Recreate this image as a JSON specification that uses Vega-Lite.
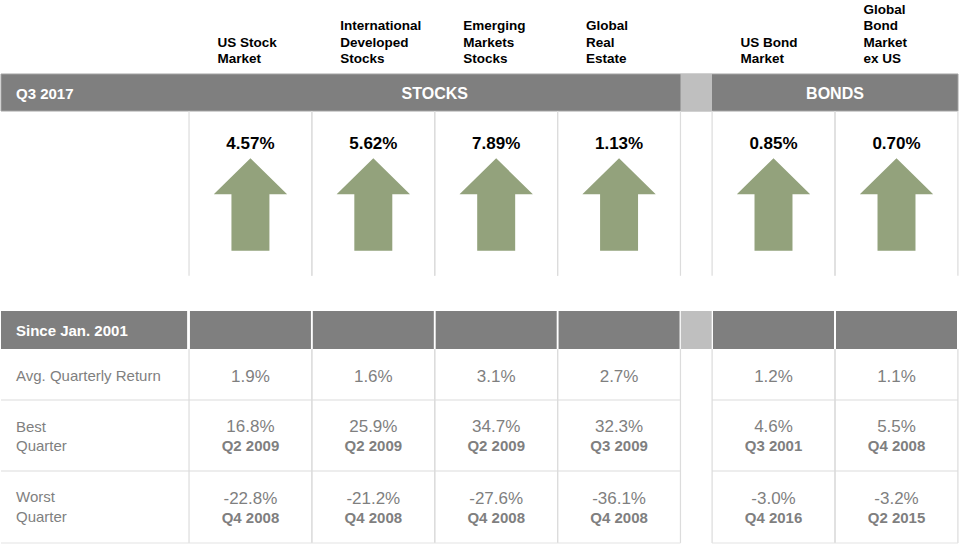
{
  "$schema": "https://vega.github.io/schema/vega-lite/v6.json",
  "width": 960,
  "height": 544,
  "padding": 0,
  "autosize": {"type": "none"},
  "background": "white",
  "config": {
    "view": {"stroke": null},
    "text": {"font": "Liberation Sans"},
    "locale": {"number": {"decimal": ".", "thousands": ",", "grouping": [3], "currency": ["$", ""], "minus": "-"}}
  },
  "datasets": {
    "assets": [
      {"name": "US Stock Market", "asset": ["US Stock", "Market"], "group": "STOCKS", "col": 1, "q3": 0.0457, "avg": 0.019, "best": 0.168, "bestQ": "Q2 2009", "worst": -0.228, "worstQ": "Q4 2008"},
      {"name": "International Developed Stocks", "asset": ["International", "Developed", "Stocks"], "group": "STOCKS", "col": 2, "q3": 0.0562, "avg": 0.016, "best": 0.259, "bestQ": "Q2 2009", "worst": -0.212, "worstQ": "Q4 2008"},
      {"name": "Emerging Markets Stocks", "asset": ["Emerging", "Markets", "Stocks"], "group": "STOCKS", "col": 3, "q3": 0.0789, "avg": 0.031, "best": 0.347, "bestQ": "Q2 2009", "worst": -0.276, "worstQ": "Q4 2008"},
      {"name": "Global Real Estate", "asset": ["Global", "Real", "Estate"], "group": "STOCKS", "col": 4, "q3": 0.0113, "avg": 0.027, "best": 0.323, "bestQ": "Q3 2009", "worst": -0.361, "worstQ": "Q4 2008"},
      {"name": "US Bond Market", "asset": ["US Bond", "Market"], "group": "BONDS", "col": 6, "q3": 0.0085, "avg": 0.012, "best": 0.046, "bestQ": "Q3 2001", "worst": -0.030, "worstQ": "Q4 2016"},
      {"name": "Global Bond Market ex US", "asset": ["Global", "Bond", "Market", "ex US"], "group": "BONDS", "col": 7, "q3": 0.0070, "avg": 0.011, "best": 0.055, "bestQ": "Q4 2008", "worst": -0.032, "worstQ": "Q2 2015"}
    ]
  },
  "data": {"name": "assets"},
  "layer": [
    {
      "data": {"values": [{}]},
      "mark": {"type": "rect", "fill": "#7f7f7f", "stroke": "#a3a3a3", "strokeWidth": 1},
      "encoding": {
        "x": {"datum": -0.5, "type": "quantitative", "scale": {"domain": [-0.5, 0.5, 4.5, 5.5, 7.5], "range": [1, 189, 680.5, 712, 958], "zero": false, "nice": false, "padding": 0}, "axis": null},
        "x2": {"datum": 7.5},
        "y": {"datum": 1, "type": "quantitative", "scale": {"domain": [0, 1, 2, 3, 4, 5, 6, 7], "range": [0, 74, 111, 311, 349, 400, 471, 543], "zero": false, "nice": false, "padding": 0}, "axis": null},
        "y2": {"datum": 2}
      }
    },
    {
      "data": {"values": [{}]},
      "mark": {"type": "rect", "fill": "#bfbfbf"},
      "encoding": {
        "x": {"datum": 4.5, "type": "quantitative", "scale": {"domain": [-0.5, 0.5, 4.5, 5.5, 7.5], "range": [1, 189, 680.5, 712, 958], "zero": false, "nice": false, "padding": 0}, "axis": null},
        "x2": {"datum": 5.5},
        "y": {"datum": 1, "type": "quantitative", "scale": {"domain": [0, 1, 2, 3, 4, 5, 6, 7], "range": [0, 74, 111, 311, 349, 400, 471, 543], "zero": false, "nice": false, "padding": 0}, "axis": null},
        "y2": {"datum": 2}
      }
    },
    {
      "data": {"values": [{}]},
      "mark": {"type": "rect", "fill": "#7f7f7f"},
      "encoding": {
        "x": {"datum": -0.5, "type": "quantitative", "scale": {"domain": [-0.5, 0.5, 4.5, 5.5, 7.5], "range": [1, 189, 680.5, 712, 958], "zero": false, "nice": false, "padding": 0}, "axis": null},
        "x2": {"datum": 0.49},
        "y": {"datum": 3, "type": "quantitative", "scale": {"domain": [0, 1, 2, 3, 4, 5, 6, 7], "range": [0, 74, 111, 311, 349, 400, 471, 543], "zero": false, "nice": false, "padding": 0}, "axis": null},
        "y2": {"datum": 4}
      }
    },
    {
      "mark": {"type": "bar", "fill": "#7f7f7f", "width": 121},
      "encoding": {
        "x": {"field": "col", "type": "quantitative", "scale": {"domain": [-0.5, 0.5, 4.5, 5.5, 7.5], "range": [1, 189, 680.5, 712, 958], "zero": false, "nice": false, "padding": 0}, "axis": null},
        "y": {"datum": 3, "type": "quantitative", "scale": {"domain": [0, 1, 2, 3, 4, 5, 6, 7], "range": [0, 74, 111, 311, 349, 400, 471, 543], "zero": false, "nice": false, "padding": 0}, "axis": null},
        "y2": {"datum": 4}
      }
    },
    {
      "data": {"values": [{}]},
      "mark": {"type": "rect", "fill": "#bfbfbf"},
      "encoding": {
        "x": {"datum": 4.51, "type": "quantitative", "scale": {"domain": [-0.5, 0.5, 4.5, 5.5, 7.5], "range": [1, 189, 680.5, 712, 958], "zero": false, "nice": false, "padding": 0}, "axis": null},
        "x2": {"datum": 5.49},
        "y": {"datum": 3, "type": "quantitative", "scale": {"domain": [0, 1, 2, 3, 4, 5, 6, 7], "range": [0, 74, 111, 311, 349, 400, 471, 543], "zero": false, "nice": false, "padding": 0}, "axis": null},
        "y2": {"datum": 4}
      }
    },
    {
      "mark": {"type": "rule", "stroke": "#dcdcdc", "strokeWidth": 1.2, "xOffset": -61.4},
      "encoding": {
        "x": {"field": "col", "type": "quantitative", "scale": {"domain": [-0.5, 0.5, 4.5, 5.5, 7.5], "range": [1, 189, 680.5, 712, 958], "zero": false, "nice": false, "padding": 0}, "axis": null},
        "y": {"datum": 2, "type": "quantitative", "scale": {"domain": [0, 1, 2, 3, 4, 5, 6, 7], "range": [0, 74, 111, 311, 349, 400, 471, 543], "zero": false, "nice": false, "padding": 0}, "axis": null},
        "y2": {"datum": 2.824}
      }
    },
    {
      "mark": {"type": "rule", "stroke": "#dcdcdc", "strokeWidth": 1.2, "xOffset": 61.4},
      "encoding": {
        "x": {"field": "col", "type": "quantitative", "scale": {"domain": [-0.5, 0.5, 4.5, 5.5, 7.5], "range": [1, 189, 680.5, 712, 958], "zero": false, "nice": false, "padding": 0}, "axis": null},
        "y": {"datum": 2, "type": "quantitative", "scale": {"domain": [0, 1, 2, 3, 4, 5, 6, 7], "range": [0, 74, 111, 311, 349, 400, 471, 543], "zero": false, "nice": false, "padding": 0}, "axis": null},
        "y2": {"datum": 2.824}
      }
    },
    {
      "mark": {"type": "rule", "stroke": "#dcdcdc", "strokeWidth": 1.2, "xOffset": -61.4},
      "encoding": {
        "x": {"field": "col", "type": "quantitative", "scale": {"domain": [-0.5, 0.5, 4.5, 5.5, 7.5], "range": [1, 189, 680.5, 712, 958], "zero": false, "nice": false, "padding": 0}, "axis": null},
        "y": {"datum": 4, "type": "quantitative", "scale": {"domain": [0, 1, 2, 3, 4, 5, 6, 7], "range": [0, 74, 111, 311, 349, 400, 471, 543], "zero": false, "nice": false, "padding": 0}, "axis": null},
        "y2": {"datum": 7}
      }
    },
    {
      "mark": {"type": "rule", "stroke": "#dcdcdc", "strokeWidth": 1.2, "xOffset": 61.4},
      "encoding": {
        "x": {"field": "col", "type": "quantitative", "scale": {"domain": [-0.5, 0.5, 4.5, 5.5, 7.5], "range": [1, 189, 680.5, 712, 958], "zero": false, "nice": false, "padding": 0}, "axis": null},
        "y": {"datum": 4, "type": "quantitative", "scale": {"domain": [0, 1, 2, 3, 4, 5, 6, 7], "range": [0, 74, 111, 311, 349, 400, 471, 543], "zero": false, "nice": false, "padding": 0}, "axis": null},
        "y2": {"datum": 7}
      }
    },
    {
      "data": {"values": [{}]},
      "mark": {"type": "rule", "stroke": "#dcdcdc", "strokeWidth": 1.2},
      "encoding": {
        "x": {"datum": -0.5, "type": "quantitative", "scale": {"domain": [-0.5, 0.5, 4.5, 5.5, 7.5], "range": [1, 189, 680.5, 712, 958], "zero": false, "nice": false, "padding": 0}, "axis": null},
        "x2": {"datum": 4.5},
        "y": {"datum": 5, "type": "quantitative", "scale": {"domain": [0, 1, 2, 3, 4, 5, 6, 7], "range": [0, 74, 111, 311, 349, 400, 471, 543], "zero": false, "nice": false, "padding": 0}, "axis": null}
      }
    },
    {
      "data": {"values": [{}]},
      "mark": {"type": "rule", "stroke": "#dcdcdc", "strokeWidth": 1.2},
      "encoding": {
        "x": {"datum": 5.5, "type": "quantitative", "scale": {"domain": [-0.5, 0.5, 4.5, 5.5, 7.5], "range": [1, 189, 680.5, 712, 958], "zero": false, "nice": false, "padding": 0}, "axis": null},
        "x2": {"datum": 7.5},
        "y": {"datum": 5, "type": "quantitative", "scale": {"domain": [0, 1, 2, 3, 4, 5, 6, 7], "range": [0, 74, 111, 311, 349, 400, 471, 543], "zero": false, "nice": false, "padding": 0}, "axis": null}
      }
    },
    {
      "data": {"values": [{}]},
      "mark": {"type": "rule", "stroke": "#dcdcdc", "strokeWidth": 1.2},
      "encoding": {
        "x": {"datum": -0.5, "type": "quantitative", "scale": {"domain": [-0.5, 0.5, 4.5, 5.5, 7.5], "range": [1, 189, 680.5, 712, 958], "zero": false, "nice": false, "padding": 0}, "axis": null},
        "x2": {"datum": 4.5},
        "y": {"datum": 6, "type": "quantitative", "scale": {"domain": [0, 1, 2, 3, 4, 5, 6, 7], "range": [0, 74, 111, 311, 349, 400, 471, 543], "zero": false, "nice": false, "padding": 0}, "axis": null}
      }
    },
    {
      "data": {"values": [{}]},
      "mark": {"type": "rule", "stroke": "#dcdcdc", "strokeWidth": 1.2},
      "encoding": {
        "x": {"datum": 5.5, "type": "quantitative", "scale": {"domain": [-0.5, 0.5, 4.5, 5.5, 7.5], "range": [1, 189, 680.5, 712, 958], "zero": false, "nice": false, "padding": 0}, "axis": null},
        "x2": {"datum": 7.5},
        "y": {"datum": 6, "type": "quantitative", "scale": {"domain": [0, 1, 2, 3, 4, 5, 6, 7], "range": [0, 74, 111, 311, 349, 400, 471, 543], "zero": false, "nice": false, "padding": 0}, "axis": null}
      }
    },
    {
      "data": {"values": [{}]},
      "mark": {"type": "rule", "stroke": "#e3e3e3", "strokeWidth": 1.2},
      "encoding": {
        "x": {"datum": -0.5, "type": "quantitative", "scale": {"domain": [-0.5, 0.5, 4.5, 5.5, 7.5], "range": [1, 189, 680.5, 712, 958], "zero": false, "nice": false, "padding": 0}, "axis": null},
        "x2": {"datum": 4.5},
        "y": {"datum": 7, "type": "quantitative", "scale": {"domain": [0, 1, 2, 3, 4, 5, 6, 7], "range": [0, 74, 111, 311, 349, 400, 471, 543], "zero": false, "nice": false, "padding": 0}, "axis": null}
      }
    },
    {
      "data": {"values": [{}]},
      "mark": {"type": "rule", "stroke": "#e3e3e3", "strokeWidth": 1.2},
      "encoding": {
        "x": {"datum": 5.5, "type": "quantitative", "scale": {"domain": [-0.5, 0.5, 4.5, 5.5, 7.5], "range": [1, 189, 680.5, 712, 958], "zero": false, "nice": false, "padding": 0}, "axis": null},
        "x2": {"datum": 7.5},
        "y": {"datum": 7, "type": "quantitative", "scale": {"domain": [0, 1, 2, 3, 4, 5, 6, 7], "range": [0, 74, 111, 311, 349, 400, 471, 543], "zero": false, "nice": false, "padding": 0}, "axis": null}
      }
    },
    {
      "mark": {"type": "point", "shape": "M0,-1L0.794,-0.221L0.411,-0.221L0.411,1L-0.411,1L-0.411,-0.221L-0.794,-0.221Z", "size": 8538, "filled": true, "fill": "#93a27c", "opacity": 1, "strokeWidth": 0},
      "encoding": {
        "x": {"field": "col", "type": "quantitative", "scale": {"domain": [-0.5, 0.5, 4.5, 5.5, 7.5], "range": [1, 189, 680.5, 712, 958], "zero": false, "nice": false, "padding": 0}, "axis": null},
        "y": {"datum": 2.4675, "type": "quantitative", "scale": {"domain": [0, 1, 2, 3, 4, 5, 6, 7], "range": [0, 74, 111, 311, 349, 400, 471, 543], "zero": false, "nice": false, "padding": 0}, "axis": null}
      }
    },
    {
      "transform": [{"filter": "length(datum.asset) == 2"}],
      "mark": {"type": "text", "align": "left", "baseline": "middle", "dx": -33, "dy": 42.7, "fontSize": 13.5, "fontWeight": "bold", "lineHeight": 16.6, "color": "#000000"},
      "encoding": {
        "x": {"field": "col", "type": "quantitative", "scale": {"domain": [-0.5, 0.5, 4.5, 5.5, 7.5], "range": [1, 189, 680.5, 712, 958], "zero": false, "nice": false, "padding": 0}, "axis": null},
        "y": {"datum": 0, "type": "quantitative", "scale": {"domain": [0, 1, 2, 3, 4, 5, 6, 7], "range": [0, 74, 111, 311, 349, 400, 471, 543], "zero": false, "nice": false, "padding": 0}, "axis": null},
        "text": {"field": "asset", "type": "nominal"}
      }
    },
    {
      "transform": [{"filter": "length(datum.asset) == 3"}],
      "mark": {"type": "text", "align": "left", "baseline": "middle", "dx": -33, "dy": 26.1, "fontSize": 13.5, "fontWeight": "bold", "lineHeight": 16.6, "color": "#000000"},
      "encoding": {
        "x": {"field": "col", "type": "quantitative", "scale": {"domain": [-0.5, 0.5, 4.5, 5.5, 7.5], "range": [1, 189, 680.5, 712, 958], "zero": false, "nice": false, "padding": 0}, "axis": null},
        "y": {"datum": 0, "type": "quantitative", "scale": {"domain": [0, 1, 2, 3, 4, 5, 6, 7], "range": [0, 74, 111, 311, 349, 400, 471, 543], "zero": false, "nice": false, "padding": 0}, "axis": null},
        "text": {"field": "asset", "type": "nominal"}
      }
    },
    {
      "transform": [{"filter": "length(datum.asset) == 4"}],
      "mark": {"type": "text", "align": "left", "baseline": "middle", "dx": -33, "dy": 9.5, "fontSize": 13.5, "fontWeight": "bold", "lineHeight": 16.6, "color": "#000000"},
      "encoding": {
        "x": {"field": "col", "type": "quantitative", "scale": {"domain": [-0.5, 0.5, 4.5, 5.5, 7.5], "range": [1, 189, 680.5, 712, 958], "zero": false, "nice": false, "padding": 0}, "axis": null},
        "y": {"datum": 0, "type": "quantitative", "scale": {"domain": [0, 1, 2, 3, 4, 5, 6, 7], "range": [0, 74, 111, 311, 349, 400, 471, 543], "zero": false, "nice": false, "padding": 0}, "axis": null},
        "text": {"field": "asset", "type": "nominal"}
      }
    },
    {
      "data": {"values": [{}]},
      "mark": {"type": "text", "text": "Q3 2017", "align": "left", "baseline": "middle", "dx": 15, "dy": 1, "fontSize": 15, "fontWeight": "bold", "color": "#ffffff"},
      "encoding": {
        "x": {"datum": -0.5, "type": "quantitative", "scale": {"domain": [-0.5, 0.5, 4.5, 5.5, 7.5], "range": [1, 189, 680.5, 712, 958], "zero": false, "nice": false, "padding": 0}, "axis": null},
        "y": {"datum": 1.5, "type": "quantitative", "scale": {"domain": [0, 1, 2, 3, 4, 5, 6, 7], "range": [0, 74, 111, 311, 349, 400, 471, 543], "zero": false, "nice": false, "padding": 0}, "axis": null}
      }
    },
    {
      "transform": [{"aggregate": [{"op": "mean", "field": "col", "as": "col"}], "groupby": ["group"]}],
      "mark": {"type": "text", "align": "center", "baseline": "middle", "dy": 1, "fontSize": 16, "fontWeight": "bold", "color": "#ffffff"},
      "encoding": {
        "x": {"field": "col", "type": "quantitative", "scale": {"domain": [-0.5, 0.5, 4.5, 5.5, 7.5], "range": [1, 189, 680.5, 712, 958], "zero": false, "nice": false, "padding": 0}, "axis": null},
        "y": {"datum": 1.5, "type": "quantitative", "scale": {"domain": [0, 1, 2, 3, 4, 5, 6, 7], "range": [0, 74, 111, 311, 349, 400, 471, 543], "zero": false, "nice": false, "padding": 0}, "axis": null},
        "text": {"field": "group", "type": "nominal"}
      }
    },
    {
      "mark": {"type": "text", "align": "center", "baseline": "middle", "fontSize": 17, "fontWeight": "bold", "color": "#000000"},
      "encoding": {
        "x": {"field": "col", "type": "quantitative", "scale": {"domain": [-0.5, 0.5, 4.5, 5.5, 7.5], "range": [1, 189, 680.5, 712, 958], "zero": false, "nice": false, "padding": 0}, "axis": null},
        "y": {"datum": 2.1635, "type": "quantitative", "scale": {"domain": [0, 1, 2, 3, 4, 5, 6, 7], "range": [0, 74, 111, 311, 349, 400, 471, 543], "zero": false, "nice": false, "padding": 0}, "axis": null},
        "text": {"field": "q3", "type": "quantitative", "format": ".2%"}
      }
    },
    {
      "data": {"values": [{}]},
      "mark": {"type": "text", "text": "Since Jan. 2001", "align": "left", "baseline": "middle", "dx": 15, "dy": 1, "fontSize": 15, "fontWeight": "bold", "color": "#ffffff"},
      "encoding": {
        "x": {"datum": -0.5, "type": "quantitative", "scale": {"domain": [-0.5, 0.5, 4.5, 5.5, 7.5], "range": [1, 189, 680.5, 712, 958], "zero": false, "nice": false, "padding": 0}, "axis": null},
        "y": {"datum": 3.5, "type": "quantitative", "scale": {"domain": [0, 1, 2, 3, 4, 5, 6, 7], "range": [0, 74, 111, 311, 349, 400, 471, 543], "zero": false, "nice": false, "padding": 0}, "axis": null}
      }
    },
    {
      "data": {"values": [{}]},
      "mark": {"type": "text", "text": "Avg. Quarterly Return", "align": "left", "baseline": "middle", "dx": 15, "dy": 1, "fontSize": 15, "color": "#7f7f7f"},
      "encoding": {
        "x": {"datum": -0.5, "type": "quantitative", "scale": {"domain": [-0.5, 0.5, 4.5, 5.5, 7.5], "range": [1, 189, 680.5, 712, 958], "zero": false, "nice": false, "padding": 0}, "axis": null},
        "y": {"datum": 4.5, "type": "quantitative", "scale": {"domain": [0, 1, 2, 3, 4, 5, 6, 7], "range": [0, 74, 111, 311, 349, 400, 471, 543], "zero": false, "nice": false, "padding": 0}, "axis": null}
      }
    },
    {
      "data": {"values": [{}]},
      "mark": {"type": "text", "text": ["Best", "Quarter"], "align": "left", "baseline": "middle", "dx": 15, "dy": -9, "lineHeight": 19.5, "fontSize": 15, "color": "#7f7f7f"},
      "encoding": {
        "x": {"datum": -0.5, "type": "quantitative", "scale": {"domain": [-0.5, 0.5, 4.5, 5.5, 7.5], "range": [1, 189, 680.5, 712, 958], "zero": false, "nice": false, "padding": 0}, "axis": null},
        "y": {"datum": 5.5, "type": "quantitative", "scale": {"domain": [0, 1, 2, 3, 4, 5, 6, 7], "range": [0, 74, 111, 311, 349, 400, 471, 543], "zero": false, "nice": false, "padding": 0}, "axis": null}
      }
    },
    {
      "data": {"values": [{}]},
      "mark": {"type": "text", "text": ["Worst", "Quarter"], "align": "left", "baseline": "middle", "dx": 15, "dy": -10, "lineHeight": 20, "fontSize": 15, "color": "#7f7f7f"},
      "encoding": {
        "x": {"datum": -0.5, "type": "quantitative", "scale": {"domain": [-0.5, 0.5, 4.5, 5.5, 7.5], "range": [1, 189, 680.5, 712, 958], "zero": false, "nice": false, "padding": 0}, "axis": null},
        "y": {"datum": 6.5, "type": "quantitative", "scale": {"domain": [0, 1, 2, 3, 4, 5, 6, 7], "range": [0, 74, 111, 311, 349, 400, 471, 543], "zero": false, "nice": false, "padding": 0}, "axis": null}
      }
    },
    {
      "mark": {"type": "text", "align": "center", "baseline": "middle", "dy": 2, "fontSize": 17, "color": "#7f7f7f"},
      "encoding": {
        "x": {"field": "col", "type": "quantitative", "scale": {"domain": [-0.5, 0.5, 4.5, 5.5, 7.5], "range": [1, 189, 680.5, 712, 958], "zero": false, "nice": false, "padding": 0}, "axis": null},
        "y": {"datum": 4.5, "type": "quantitative", "scale": {"domain": [0, 1, 2, 3, 4, 5, 6, 7], "range": [0, 74, 111, 311, 349, 400, 471, 543], "zero": false, "nice": false, "padding": 0}, "axis": null},
        "text": {"field": "avg", "type": "quantitative", "format": ".1%"}
      }
    },
    {
      "mark": {"type": "text", "align": "center", "baseline": "middle", "dy": -9, "fontSize": 17, "color": "#7f7f7f"},
      "encoding": {
        "x": {"field": "col", "type": "quantitative", "scale": {"domain": [-0.5, 0.5, 4.5, 5.5, 7.5], "range": [1, 189, 680.5, 712, 958], "zero": false, "nice": false, "padding": 0}, "axis": null},
        "y": {"datum": 5.5, "type": "quantitative", "scale": {"domain": [0, 1, 2, 3, 4, 5, 6, 7], "range": [0, 74, 111, 311, 349, 400, 471, 543], "zero": false, "nice": false, "padding": 0}, "axis": null},
        "text": {"field": "best", "type": "quantitative", "format": ".1%"}
      }
    },
    {
      "mark": {"type": "text", "align": "center", "baseline": "middle", "dy": 10.5, "fontSize": 15, "fontWeight": "bold", "color": "#7f7f7f"},
      "encoding": {
        "x": {"field": "col", "type": "quantitative", "scale": {"domain": [-0.5, 0.5, 4.5, 5.5, 7.5], "range": [1, 189, 680.5, 712, 958], "zero": false, "nice": false, "padding": 0}, "axis": null},
        "y": {"datum": 5.5, "type": "quantitative", "scale": {"domain": [0, 1, 2, 3, 4, 5, 6, 7], "range": [0, 74, 111, 311, 349, 400, 471, 543], "zero": false, "nice": false, "padding": 0}, "axis": null},
        "text": {"field": "bestQ", "type": "nominal"}
      }
    },
    {
      "mark": {"type": "text", "align": "center", "baseline": "middle", "dy": -8, "fontSize": 17, "color": "#7f7f7f"},
      "encoding": {
        "x": {"field": "col", "type": "quantitative", "scale": {"domain": [-0.5, 0.5, 4.5, 5.5, 7.5], "range": [1, 189, 680.5, 712, 958], "zero": false, "nice": false, "padding": 0}, "axis": null},
        "y": {"datum": 6.5, "type": "quantitative", "scale": {"domain": [0, 1, 2, 3, 4, 5, 6, 7], "range": [0, 74, 111, 311, 349, 400, 471, 543], "zero": false, "nice": false, "padding": 0}, "axis": null},
        "text": {"field": "worst", "type": "quantitative", "format": ".1%"}
      }
    },
    {
      "mark": {"type": "text", "align": "center", "baseline": "middle", "dy": 11, "fontSize": 15, "fontWeight": "bold", "color": "#7f7f7f"},
      "encoding": {
        "x": {"field": "col", "type": "quantitative", "scale": {"domain": [-0.5, 0.5, 4.5, 5.5, 7.5], "range": [1, 189, 680.5, 712, 958], "zero": false, "nice": false, "padding": 0}, "axis": null},
        "y": {"datum": 6.5, "type": "quantitative", "scale": {"domain": [0, 1, 2, 3, 4, 5, 6, 7], "range": [0, 74, 111, 311, 349, 400, 471, 543], "zero": false, "nice": false, "padding": 0}, "axis": null},
        "text": {"field": "worstQ", "type": "nominal"}
      }
    }
  ]
}
